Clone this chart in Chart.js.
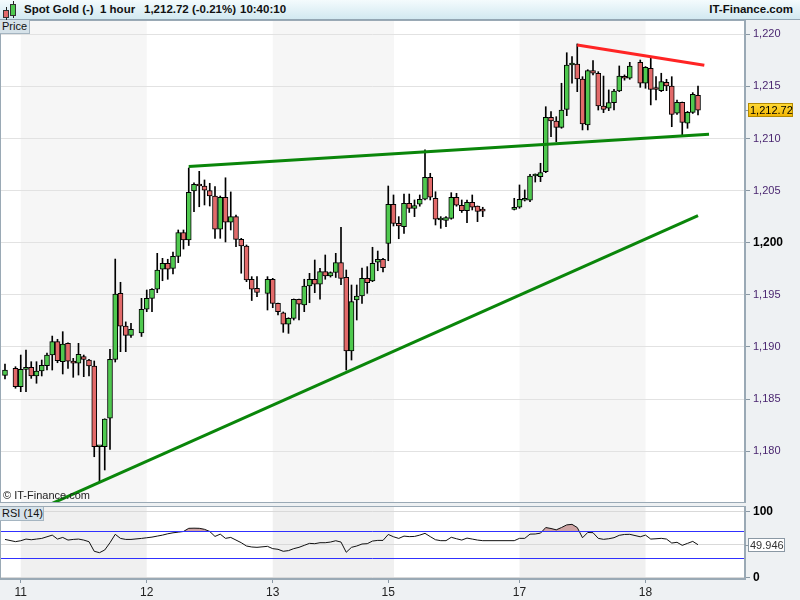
<!DOCTYPE html>
<html>
<head>
<meta charset="utf-8">
<title>Spot Gold (-) 1 hour</title>
<script src="https://cdn.jsdelivr.net/npm/chart.js@4.4.1/dist/chart.umd.min.js"></script>
<style>
  html, body { margin: 0; padding: 0; }
  body { width: 800px; height: 600px; position: relative; overflow: hidden; background: #eef1f3; font-family: "Liberation Sans", Arial, sans-serif; }
  .abs { position: absolute; }
  #head { left: 0; top: 0; width: 800px; height: 19px; background: linear-gradient(#f4fbfd, #d2e9f1); border-bottom: 1px solid #93a6b3; }
  #head span { position: absolute; top: 3px; font-size: 11.5px; font-weight: bold; color: #111; white-space: nowrap; }
  .wick { position: absolute; width: 1px; background: #222; }
  .cbody { position: absolute; width: 4px; border: 1px solid #333; }
  .lbl { font-size: 11px; color: #111; background: #d6e2e9; border-right: 1px solid #a5b5c1; border-bottom: 1px solid #a5b5c1; padding-left: 2px; line-height: 13px; height: 13px; }
  #copy { left: 3px; top: 489px; font-size: 11px; color: #222; }
  canvas { position: absolute; left: 0; }
</style>
</head>
<body>
<div id="head" class="abs">
  <div class="wick" style="left:6px;top:7px;height:13px"></div>
  <div class="cbody" style="left:3px;top:10px;height:6px;background:#e26a6a"></div>
  <div class="wick" style="left:13px;top:1px;height:17px"></div>
  <div class="cbody" style="left:10px;top:4px;height:10px;background:#4fc94f"></div>
  <span style="left:24px">Spot Gold (-)</span>
  <span style="left:100px">1 hour</span>
  <span style="left:144px">1,212.72 (-0.21%)</span>
  <span style="left:240px">10:40:10</span>
  <span style="right:7px">IT-Finance.com</span>
</div>
<canvas id="main" width="800" height="483" style="top:20px"></canvas>
<canvas id="rsi" width="800" height="94" style="top:506px"></canvas>
<div class="abs lbl" style="left:0;top:20px;width:27px">Price</div>
<div class="abs lbl" style="left:0;top:507px;width:41px">RSI (14)</div>
<div id="copy" class="abs">© IT-Finance.com</div>
<script>
// hourly slots; null = no candle in that hour
const open = [
  1187.27, null, 1187.94, 1186.18, 1187.85, 1188.04, 1187.21, 1187.69, 1188.19, 1189.22,
  1190.50, 1188.58, 1190.34, 1188.65, 1188.43, 1189.06, 1188.74, 1188.17, 1180.42, 1180.42,
  1183.15, 1188.81, 1195.14, 1192.00, 1191.09, null, 1191.33, 1193.61, 1194.66, 1195.53,
  1197.45, 1198.02, 1197.52, 1198.68, 1200.98, 1200.26, 1204.96, 1205.60, 1205.44, 1205.01,
  1204.48, 1201.29, 1204.36, 1201.96, 1202.50, 1200.32, 1199.68, 1196.49, 1195.62, null,
  1195.14, 1196.49, 1194.18, 1193.28, 1192.17, 1192.74, 1194.57, 1194.02, 1195.84, 1196.49,
  1196.01, 1197.22, 1196.80, 1197.14, 1198.10, 1196.68, 1189.61, 1194.50, 1194.88, 1196.58,
  1196.32, 1198.12, 1198.41, 1199.94, 1203.69, 1201.86, 1201.54, 1203.78, 1203.30, 1203.69,
  1204.17, 1206.28, 1204.26, 1202.18, 1202.13, 1202.34, 1204.36, 1203.59, 1203.07, 1203.88,
  1203.52, 1203.07, null, null, null, null, null, 1203.20, 1203.40, 1204.07,
  1204.07, 1206.40, 1206.33, 1206.81, 1212.03, 1211.68, 1211.07, 1212.80, 1217.05, 1217.15,
  1215.71, 1211.30, 1216.51, 1216.26, 1213.12, 1212.90, 1213.44, 1214.56, 1215.93, 1215.78,
  null, 1217.31, 1215.30, 1216.74, 1214.75, 1214.59, 1215.39, 1215.04, 1212.42, 1213.47,
  1211.46, 1212.51, 1214.15
];
const high = [
  1188.36, null, 1188.10, 1189.22, 1189.70, 1188.58, 1188.58, 1188.74, 1189.41, 1191.04,
  1190.73, 1191.46, 1190.40, 1188.90, 1190.34, 1189.22, 1188.80, 1188.65, 1180.50, 1183.10,
  1189.77, 1198.43, 1196.20, 1192.40, 1192.26, null, 1194.66, 1195.46, 1195.60, 1198.98,
  1198.50, 1198.41, 1199.11, 1201.22, 1201.22, 1207.17, 1205.75, 1206.85, 1206.02, 1205.70,
  1205.39, 1204.48, 1206.23, 1204.87, 1202.66, 1200.42, 1199.78, 1196.74, 1196.74, null,
  1196.74, 1196.58, 1194.20, 1193.35, 1192.80, 1194.60, 1194.60, 1196.49, 1197.06, 1198.34,
  1197.54, 1198.82, 1197.20, 1198.98, 1201.48, 1197.38, 1195.94, 1195.94, 1197.57, 1197.70,
  1199.56, 1199.20, 1198.50, 1205.44, 1204.58, 1202.50, 1204.67, 1204.67, 1204.10, 1204.58,
  1208.90, 1206.66, 1204.89, 1202.50, 1202.50, 1204.80, 1204.74, 1204.10, 1204.10, 1204.58,
  1203.52, 1203.40, null, null, null, null, null, 1204.26, 1205.54, 1205.06,
  1206.56, 1206.60, 1207.62, 1213.05, 1212.57, 1212.09, 1215.30, 1218.23, 1217.85, 1219.07,
  1215.93, 1216.60, 1217.47, 1216.41, 1215.99, 1214.66, 1214.72, 1216.96, 1216.10, 1217.31,
  null, 1217.53, 1216.90, 1217.70, 1215.93, 1216.26, 1215.68, 1215.93, 1213.69, 1213.50,
  1212.60, 1214.40, 1215.04
];
const low = [
  1186.92, null, 1186.03, 1185.70, 1185.70, 1186.98, 1186.51, 1187.21, 1187.78, 1187.78,
  1188.48, 1187.40, 1187.94, 1187.08, 1187.30, 1187.14, 1187.21, 1179.46, 1177.06, 1178.19,
  1180.17, 1188.55, 1189.54, 1189.54, 1190.92, null, 1191.00, 1193.38, 1193.38, 1195.20,
  1196.35, 1196.49, 1197.00, 1198.08, 1199.39, 1199.73, 1202.97, 1203.45, 1203.62, 1203.52,
  1200.42, 1200.42, 1200.07, 1201.22, 1199.62, 1197.07, 1196.26, 1194.45, 1194.82, null,
  1193.54, 1193.76, 1193.06, 1191.40, 1191.30, 1192.58, 1192.58, 1193.38, 1194.24, 1195.20,
  1194.57, 1196.49, 1196.70, 1196.66, 1195.97, 1187.78, 1188.74, 1192.58, 1194.18, 1195.14,
  1196.26, 1197.31, 1197.19, 1198.27, 1201.60, 1200.38, 1200.90, 1202.90, 1202.50, 1203.50,
  1204.10, 1204.10, 1201.70, 1201.38, 1201.54, 1202.25, 1203.50, 1202.90, 1201.92, 1203.14,
  1202.02, 1202.50, null, null, null, null, null, 1203.14, 1203.30, 1204.00,
  1203.93, 1205.82, 1205.86, 1206.72, 1210.17, 1209.69, 1210.98, 1212.19, 1215.30, 1214.49,
  1210.82, 1210.82, 1216.10, 1212.73, 1212.48, 1212.67, 1212.73, 1214.49, 1215.60, 1215.68,
  null, 1214.91, 1214.82, 1213.22, 1213.69, 1214.50, 1214.59, 1211.13, 1212.30, 1210.33,
  1210.98, 1212.40, 1212.25
];
const close = [
  1187.78, null, 1186.18, 1187.85, 1187.95, 1187.21, 1187.69, 1188.23, 1189.22, 1190.50,
  1188.67, 1190.28, 1188.62, 1188.43, 1189.29, 1188.81, 1188.17, 1180.42, 1180.45, 1183.08,
  1188.81, 1195.08, 1192.00, 1191.11, 1191.69, null, 1193.61, 1194.66, 1195.53, 1197.38,
  1198.02, 1197.45, 1198.68, 1200.98, 1200.26, 1204.84, 1205.60, 1205.44, 1205.03, 1204.48,
  1201.29, 1204.36, 1201.96, 1202.50, 1200.32, 1199.68, 1196.42, 1195.53, 1195.22, null,
  1196.49, 1194.18, 1193.38, 1192.17, 1192.74, 1194.57, 1194.09, 1195.84, 1196.49, 1196.01,
  1197.22, 1196.80, 1197.12, 1198.10, 1196.58, 1189.61, 1194.34, 1194.88, 1196.58, 1196.16,
  1198.02, 1198.41, 1197.60, 1203.69, 1201.86, 1201.60, 1203.78, 1203.30, 1203.55, 1204.17,
  1206.28, 1204.36, 1202.25, 1202.34, 1202.42, 1204.36, 1203.59, 1203.07, 1203.88, 1203.40,
  1203.01, 1203.03, null, null, null, null, null, 1203.40, 1204.17, 1204.17,
  1206.40, 1206.45, 1206.72, 1212.03, 1211.68, 1211.07, 1212.73, 1217.05, 1217.15, 1215.71,
  1211.39, 1216.51, 1216.26, 1213.12, 1212.80, 1213.44, 1214.56, 1215.99, 1215.78, 1216.96,
  null, 1215.30, 1216.83, 1214.72, 1214.70, 1215.45, 1215.04, 1212.32, 1213.47, 1211.55,
  1212.51, 1214.24, 1212.72
];
const rsi = [
  58, null, 54.6, 56, 58.5, 57.5, 58.5, 59.5, 62, 64.5,
  58.5, 61, 57, 58, 58.5, 57, 54.5, 40, 37.9, 42,
  53, 65.7, 59.5, 58, 58, null, 59.5, 60.5, 61.5, 63,
  64.5, 66.5, 68, 69, 70, 74.8, 75, 74.8, 73.3, 70,
  62.5, 66, 59.6, 61, 57, 53, 48, 46.5, 46, null,
  47.5, 44, 43, 40, 41, 44, 46, 49, 52, 51.5,
  53, 53, 54, 56, 54, 38.5, 46, 48, 51, 51.5,
  55.5, 56.5, 56.5, 65.5, 62, 59.5, 63, 62.2, 62.5, 64.5,
  67.2, 62.2, 57.5, 56.1, 56.1, 61.2, 59, 57, 60, 58.5,
  57, 56.1, null, null, null, null, null, 56.1, 59.6, 59.6,
  66, 66.2, 67.5, 76, 74.5, 72.5, 76, 80, 80.8, 76,
  60.5, 68.5, 68.2, 59.6, 58.1, 59, 60.6, 64.2, 65.5, 65.7,
  null, 62, 64.5, 58.5, 59, 59.6, 58.5, 52.5, 53.6, 49,
  52, 55, 49.95
];

// trend lines drawn on the chart: [slot, price]
const upperTrendX = [35, 134.1];
const upperTrendY = [1207.3, 1210.4];
const lowerTrendX = [8, 132];
const lowerTrendY = [1174.76, 1202.59];
const redTrendX = [109, 133.2];
const redTrendY = [1218.97, 1217.02];

const dayIdx = [3, 27, 51, 73, 98, 122];
const dayLabels = ['11', '12', '13', '15', '17', '18'];
// shaded sessions, pairs of [start, end] in slots
const bandEdges = [3, 27, 51, 74.1, 98, 122];
const priceTicks = [1180, 1185, 1190, 1195, 1200, 1205, 1210, 1215, 1220];
const rsiTicks = [0, 50, 100];
const rsiLevels = [30, 70];
const lastPrice = 1212.72;
const lastRsi = 49.946;

const family = '"Liberation Sans", Arial, sans-serif';
const xMin = -0.95, xMax = 140.95;
const upColor = '#4fc94f', downColor = '#e26a6a';
const frameColor = '#9aa9b5';
const levelColor = '#3030ff';

const slots = close.map((c, i) => i).filter(i => close[i] !== null);
const bodies = slots.map(i => ({ x: i, y: [open[i], close[i]] }));
const wicks = slots.map(i => ({ x: i, y: [low[i], high[i]] }));
const bodyColors = slots.map(i => close[i] >= open[i] ? upColor : downColor);
const rsiPoints = slots.map(i => ({ x: i, y: rsi[i] }));
const toPoints = (xs, ys) => xs.map((x, k) => ({ x, y: ys[k] }));
const tv = c => (c && c.tick) ? c.tick.value : null;

const bands = {
  id: 'bands',
  beforeDraw(chart, args, opts) {
    const { ctx, chartArea: a, scales: { x } } = chart;
    ctx.save();
    ctx.fillStyle = '#fff';
    ctx.fillRect(a.left, a.top, a.width, a.height);
    ctx.fillStyle = opts.color;
    for (let k = 0; k + 1 < bandEdges.length; k += 2) {
      const x0 = x.getPixelForValue(bandEdges[k]);
      const x1 = x.getPixelForValue(bandEdges[k + 1]);
      ctx.fillRect(x0, a.top, x1 - x0, a.height);
    }
    ctx.restore();
  },
  afterDraw(chart, args, opts) {
    const { ctx, chartArea: a, scales: { y } } = chart;
    ctx.save();
    ctx.lineWidth = 1;
    (opts.levels || []).forEach(v => {
      const py = Math.round(y.getPixelForValue(v)) + 0.5;
      ctx.strokeStyle = levelColor;
      ctx.beginPath();
      ctx.moveTo(a.left, py);
      ctx.lineTo(a.right, py);
      ctx.stroke();
    });
    ctx.strokeStyle = frameColor;
    ctx.strokeRect(a.left + 0.5, a.top + 0.5, a.width - 1, a.height - 1);
    ctx.restore();
  }
};

const tag = {
  id: 'tag',
  afterDraw(chart, args, o) {
    const { ctx, chartArea: a } = chart;
    const y = Math.round(chart.scales.y.getPixelForValue(o.value));
    const x0 = a.right + 3, h = 14;
    ctx.save();
    ctx.strokeStyle = '#8a98a4';
    ctx.beginPath();
    ctx.moveTo(a.right, y + 0.5);
    ctx.lineTo(x0, y + 0.5);
    ctx.stroke();
    if (o.yellow) {
      const g = ctx.createLinearGradient(0, y - h / 2, 0, y + h / 2);
      g.addColorStop(0, '#ffdc3a');
      g.addColorStop(1, '#f2b400');
      ctx.fillStyle = g;
    } else {
      ctx.fillStyle = '#fff';
    }
    ctx.fillRect(x0, y - h / 2, o.width, h);
    ctx.strokeStyle = o.yellow ? '#b48a00' : '#8a98a4';
    ctx.strokeRect(x0 + 0.5, y - h / 2 + 0.5, o.width - 1, h - 1);
    ctx.fillStyle = o.yellow ? '#000' : '#333';
    ctx.font = '11px ' + family;
    ctx.textBaseline = 'middle';
    ctx.fillText(o.text, x0 + 2, y + 0.5);
    ctx.restore();
  }
};

const xAxis = (show) => ({
  type: 'linear',
  min: xMin,
  max: xMax,
  offset: false,
  display: show,
  afterBuildTicks(s) { s.ticks = dayIdx.map(v => ({ value: v })); },
  afterFit(s) { if (show) s.height = 21; s.paddingLeft = 0; s.paddingRight = 0; },
  grid: { drawOnChartArea: false, tickLength: 4, color: '#8a98a4' },
  border: { color: frameColor },
  ticks: {
    autoSkip: false,
    maxRotation: 0,
    padding: 2,
    color: '#222',
    font: { family, size: 12 },
    callback: v => dayLabels[dayIdx.indexOf(v)]
  }
});

new Chart(document.getElementById('main'), {
  type: 'bar',
  plugins: [bands, tag],
  data: {
    datasets: [
      { type: 'line', data: toPoints(redTrendX, redTrendY), borderColor: '#ff2424', borderWidth: 3, pointRadius: 0, order: 0 },
      { type: 'line', data: toPoints(upperTrendX, upperTrendY), borderColor: '#0a860a', borderWidth: 3, pointRadius: 0, order: 0 },
      { type: 'line', data: toPoints(lowerTrendX, lowerTrendY), borderColor: '#0a860a', borderWidth: 3, pointRadius: 0, order: 0 },
      { data: bodies, backgroundColor: bodyColors, borderColor: '#000', borderWidth: 1, borderSkipped: false,
        barThickness: 5, minBarLength: 2, grouped: false, order: 1 },
      { data: wicks, backgroundColor: '#000', borderWidth: 0, barThickness: 1, minBarLength: 1, grouped: false, order: 2 }
    ]
  },
  options: {
    responsive: false,
    animation: false,
    devicePixelRatio: 1,
    layout: { padding: 0 },
    plugins: {
      legend: { display: false },
      tooltip: { enabled: false },
      bands: { color: '#f6f6f6' },
      tag: { value: lastPrice, text: '1,212.72', width: 45, yellow: true }
    },
    scales: {
      x: xAxis(false),
      y: {
        position: 'right',
        min: 1175.02,
        max: 1221.37,
        afterBuildTicks(s) { s.ticks = priceTicks.map(v => ({ value: v })); },
        afterFit(s) { s.width = 55; s.paddingTop = 0; s.paddingBottom = 0; },
        grid: { color: '#e2e2e2', tickLength: 5, tickColor: '#8a98a4' },
        border: { color: frameColor },
        ticks: {
          padding: 3,
          color: c => tv(c) === 1200 ? '#000' : '#4a2670',
          font: c => ({ family, size: tv(c) === 1200 ? 12 : 11, weight: tv(c) === 1200 ? 'bold' : 'normal' }),
          callback: v => v.toLocaleString('en-US')
        }
      }
    }
  }
});

new Chart(document.getElementById('rsi'), {
  type: 'line',
  plugins: [bands, tag],
  data: {
    datasets: [{
      data: rsiPoints,
      borderColor: '#111',
      backgroundColor: '#cfa4a4',
      borderWidth: 1,
      pointRadius: 0,
      spanGaps: true,
      fill: { target: { value: 70 }, above: '#cfa4a4', below: 'rgba(255,255,255,0)' }
    }]
  },
  options: {
    responsive: false,
    animation: false,
    devicePixelRatio: 1,
    layout: { padding: 0 },
    plugins: {
      legend: { display: false },
      tooltip: { enabled: false },
      bands: { color: '#f0f0f0', levels: rsiLevels },
      tag: { value: lastRsi, text: '49.946', width: 37, yellow: false }
    },
    scales: {
      x: xAxis(true),
      y: {
        position: 'right',
        min: -1.97,
        max: 108.6,
        afterBuildTicks(s) { s.ticks = rsiTicks.map(v => ({ value: v })); },
        afterFit(s) { s.width = 55; s.paddingTop = 0; s.paddingBottom = 0; },
        grid: {
          tickLength: 5,
          color: '#d9d9d9',
          tickColor: c => (tv(c) === 0 || tv(c) === 100) ? '#8a98a4' : 'rgba(0,0,0,0)'
        },
        border: { color: frameColor },
        ticks: {
          padding: 3,
          color: '#000',
          font: { family, size: 12, weight: 'bold' },
          callback: v => (v === 0 || v === 100) ? String(v) : ''
        }
      }
    }
  }
});
</script>
</body>
</html>
